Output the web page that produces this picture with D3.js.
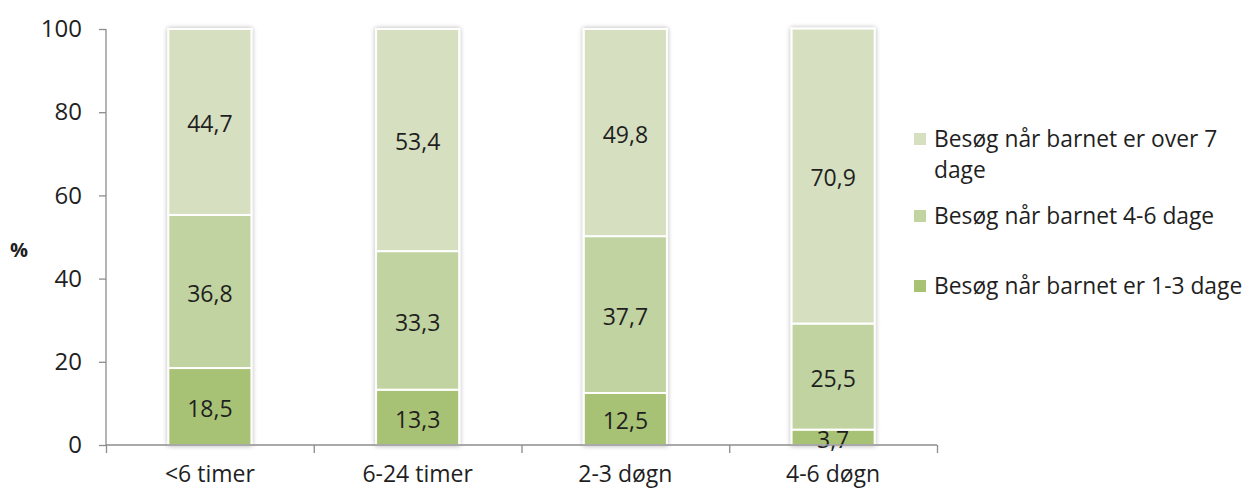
<!DOCTYPE html>
<html>
<head>
<meta charset="utf-8">
<script src="https://cdn.jsdelivr.net/npm/d3@7"></script>
<style>
  body { margin: 0; background: #fff; }
  text { font-family: "Open Sans", "Noto Sans", sans-serif; fill: #1f1f1f; }
</style>
</head>
<body>
<svg id="chart" width="1250" height="491"></svg>
<script>
// categories along x
var categories = ['<6 timer', '6-24 timer', '2-3 døgn', '4-6 døgn'];
// series, bottom to top
var seriesNames = [
    'Besøg når barnet er 1-3 dage',
    'Besøg når barnet 4-6 dage',
    'Besøg når barnet er over 7 dage'
];
var days13 = [18.5, 13.3, 12.5, 3.7];
var days46 = [36.8, 33.3, 37.7, 25.5];
var days7plus = [44.7, 53.4, 49.8, 70.9];
var yTicks = [0, 20, 40, 60, 80, 100];

var colors = ['#a8c274', '#c0d3a0', '#d6e0c0'];

var svg = d3.select('#chart');
var plotLeft = 106, plotRight = 937, plotTop = 29, plotBottom = 445;

var x = d3.scaleBand().domain(categories).range([plotLeft, plotRight]).paddingInner(0.6).paddingOuter(0.3);
var xEdge = d3.scaleLinear().domain([0, categories.length]).range([plotLeft, plotRight]);
var y = d3.scaleLinear().domain([0, 100]).range([plotBottom, plotTop]);

// soft grey glow round the bars
var defs = svg.append('defs');
var f = defs.append('filter').attr('id', 'glow').attr('x', '-20%').attr('y', '-5%').attr('width', '140%').attr('height', '110%');
f.append('feGaussianBlur').attr('in', 'SourceAlpha').attr('stdDeviation', 2.5).attr('result', 'b');
f.append('feComponentTransfer').attr('in', 'b').attr('result', 'c')
    .append('feFuncA').attr('type', 'linear').attr('slope', 0.3);
var merge = f.append('feMerge');
merge.append('feMergeNode').attr('in', 'c');
merge.append('feMergeNode').attr('in', 'SourceGraphic');

// stack the rows
var rows = categories.map(function (c, i) {
    return { cat: c, s0: days13[i], s1: days46[i], s2: days7plus[i] };
});
var stack = d3.stack().keys(['s0', 's1', 's2'])(rows);

var bars = svg.append('g').attr('filter', 'url(#glow)');
stack.forEach(function (layer, k) {
    bars.selectAll('.l' + k)
        .data(layer)
        .enter().append('rect')
        .attr('x', function (d) { return x(d.data.cat); })
        .attr('width', x.bandwidth())
        .attr('y', function (d) { return y(d[1]); })
        .attr('height', function (d) { return y(d[0]) - y(d[1]); })
        .attr('fill', colors[k])
        .attr('stroke', '#ffffff')
        .attr('stroke-width', 2);
});

// value labels
stack.forEach(function (layer, k) {
    svg.selectAll('.v' + k)
        .data(layer)
        .enter().append('text')
        .attr('x', function (d) { return x(d.data.cat) + x.bandwidth() / 2; })
        .attr('y', function (d) { return (y(d[0]) + y(d[1])) / 2 + 2; })
        .attr('dy', '0.36em')
        .attr('text-anchor', 'middle')
        .style('font-size', '23px')
        .text(function (d) { return String(d.data['s' + k]).replace('.', ','); });
});

// axes
var axisColor = '#8c8c8c';
var yAxis = svg.append('g').attr('transform', 'translate(' + plotLeft + ',0)')
    .call(d3.axisLeft(y).tickValues(yTicks).tickSize(7).tickPadding(17));
var xAxis = svg.append('g').attr('transform', 'translate(0,' + plotBottom + ')')
    .call(d3.axisBottom(xEdge).tickValues(d3.range(categories.length + 1)).tickSize(8).tickFormat(''));
[yAxis, xAxis].forEach(function (a) {
    a.select('.domain').attr('stroke', axisColor).attr('stroke-width', 1.3);
    a.selectAll('.tick line').attr('stroke', axisColor).attr('stroke-width', 1.3);
});
xAxis.select('.domain').attr('d', 'M' + plotLeft + ',0H' + plotRight);
yAxis.select('.domain').attr('d', 'M0,' + plotTop + 'V' + plotBottom);
yAxis.selectAll('.tick text').style('font-size', '24px').style('font-family', '"Open Sans", sans-serif').attr('fill', '#1f1f1f');

svg.selectAll('.cat')
    .data(categories)
    .enter().append('text')
    .attr('x', function (d) { return x(d) + x.bandwidth() / 2; })
    .attr('y', 482)
    .attr('text-anchor', 'middle')
    .style('font-size', '23px')
    .text(function (d) { return d; });

svg.append('text')
    .attr('x', 10).attr('y', 257)
    .style('font-size', '20px').style('font-weight', 'bold')
    .text('%');

// legend, top series first
var legend = [
    { name: seriesNames[2], color: colors[2], y: 147, lines: ['Besøg når barnet er over 7', 'dage'] },
    { name: seriesNames[1], color: colors[1], y: 224, lines: ['Besøg når barnet 4-6 dage'] },
    { name: seriesNames[0], color: colors[0], y: 294, lines: ['Besøg når barnet er 1-3 dage'] }
];
var lg = svg.selectAll('.leg').data(legend).enter().append('g');
lg.append('rect')
    .attr('x', 914).attr('y', function (d) { return d.y - 14; })
    .attr('width', 12).attr('height', 12)
    .attr('fill', function (d) { return d.color; });
lg.each(function (d) {
    var t = d3.select(this).append('text').style('font-size', '22.8px');
    d.lines.forEach(function (line, i) {
        t.append('tspan').attr('x', 934).attr('y', d.y + i * 31).text(line);
    });
});
</script>
</body>
</html>
